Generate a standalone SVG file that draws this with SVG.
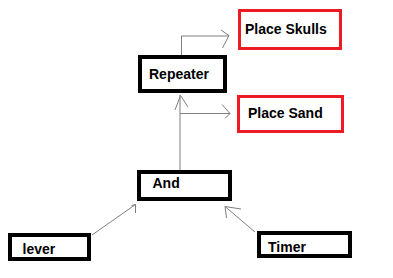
<svg xmlns="http://www.w3.org/2000/svg" width="393" height="278" viewBox="0 0 393 278">
<style>
.blk{fill:#fff;stroke:#000;stroke-width:4}
.red{fill:#fff;stroke:#ed1c24;stroke-width:3}
.lbl{font-family:"Liberation Sans",Arial,sans-serif;font-weight:bold;font-size:14px;fill:#000}
.con{fill:none;stroke:#7f7f7f;stroke-width:1}
</style>
<rect width="393" height="278" fill="#fff"/>
<g id="connectors">
<polyline class="con" points="181.5,55 181.5,36 229,36"/>
<polyline class="con" points="221,30 229,35.5 222.5,48"/>
<line class="con" x1="180" y1="170" x2="180" y2="95"/>
<polyline class="con" points="175,110 180.5,95.5 188,107"/>
<line class="con" x1="180" y1="113.5" x2="230" y2="113.5"/>
<polyline class="con" points="222,104.5 230,113.5 225,118.5"/>
<line class="con" x1="92" y1="235" x2="135.5" y2="204.5"/>
<polyline class="con" points="131.5,205.5 135.5,204.5 135.5,213"/>
<line class="con" x1="255" y1="232" x2="225" y2="206.5"/>
<polyline class="con" points="241,209 225,206.5 226.5,218"/>
</g>
<g id="place-skulls">
<rect class="red" x="239.5" y="10.5" width="101" height="38"/>
<text class="lbl" x="245" y="34">Place Skulls</text>
</g>
<g id="repeater">
<rect class="blk" x="140" y="57" width="85" height="34"/>
<text class="lbl" x="149" y="79" font-size="15">Repeater</text>
</g>
<g id="place-sand">
<rect class="red" x="238.5" y="96.5" width="104" height="35"/>
<text class="lbl" x="248" y="118">Place Sand</text>
</g>
<g id="and">
<rect class="blk" x="139" y="172" width="91" height="27"/>
<text class="lbl" x="152.5" y="188">And</text>
</g>
<g id="lever">
<rect class="blk" x="10" y="235" width="79" height="24"/>
<text class="lbl" x="22.5" y="254">lever</text>
</g>
<g id="timer">
<rect class="blk" x="259" y="233" width="91" height="23"/>
<text class="lbl" x="268" y="252">Timer</text>
</g>
</svg>
